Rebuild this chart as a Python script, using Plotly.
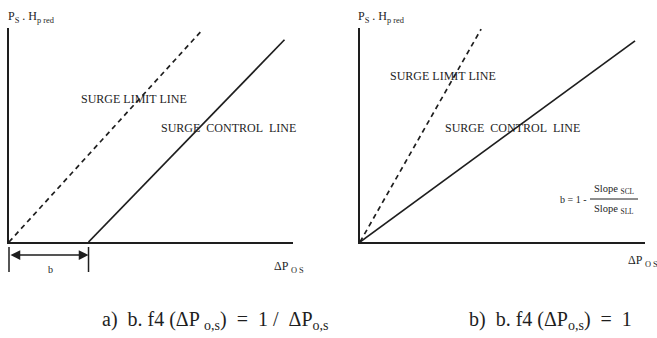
import plotly.graph_objects as go

# ---- data -------------------------------------------------------------
# panel a: parallel lines, surge control line offset by b
b_offset = 2.8
a_sll_x = [0.0, 6.8]
a_sll_y = [0.0, 9.9]
a_scl_x = [b_offset, 9.7]
a_scl_y = [0.0, 9.45]

# panel b: both lines through the origin
b_sll_x = [0.0, 4.25]
b_sll_y = [0.0, 9.95]
b_scl_x = [0.0, 9.65]
b_scl_y = [0.0, 9.4]

line_labels = ["SURGE LIMIT LINE", "SURGE&nbsp;&nbsp;CONTROL&nbsp;&nbsp;LINE"]
y_label = "P<sub>S</sub> . H<sub>p red</sub>"
x_label = "ΔP <sub>O S</sub>"
captions = ["a)&nbsp;&nbsp;b. f4 (ΔP <sub>o,s</sub>)&nbsp;&nbsp;=&nbsp;&nbsp;1 /&nbsp;&nbsp;ΔP<sub>o,s</sub>",
            "b)&nbsp;&nbsp;b. f4 (ΔP<sub>o,s</sub>)&nbsp;&nbsp;=&nbsp;&nbsp;1"]

# ---- layout helpers ---------------------------------------------------
W, H = 657, 338
FONT = "Liberation Serif"
INK = "#1e1e1e"


def px(x):
    return x / W


def py(y):
    return 1 - y / H


X_RANGE = [0, 10]
Y_RANGE = [0, 10]
xdom1 = [px(9), px(293)]
xdom2 = [px(360), px(645)]
ydom = [py(242), py(28)]


def data_to_paper_x(v, dom):
    return dom[0] + (v - X_RANGE[0]) / (X_RANGE[1] - X_RANGE[0]) * (dom[1] - dom[0])


fig = go.Figure()

fig.add_trace(go.Scatter(x=a_sll_x, y=a_sll_y, mode="lines", xaxis="x", yaxis="y",
                         line=dict(color=INK, width=1.7, dash="5px,4px")))
fig.add_trace(go.Scatter(x=a_scl_x, y=a_scl_y, mode="lines", xaxis="x", yaxis="y",
                         line=dict(color=INK, width=1.7)))
fig.add_trace(go.Scatter(x=b_sll_x, y=b_sll_y, mode="lines", xaxis="x2", yaxis="y2",
                         line=dict(color=INK, width=1.7, dash="5px,4px")))
fig.add_trace(go.Scatter(x=b_scl_x, y=b_scl_y, mode="lines", xaxis="x2", yaxis="y2",
                         line=dict(color=INK, width=1.7)))

axis_style = dict(showline=True, linecolor=INK, linewidth=2, showticklabels=False,
                  ticks="", showgrid=False, zeroline=False, fixedrange=True)

fig.update_layout(
    width=W, height=H, margin=dict(l=0, r=0, t=0, b=0),
    paper_bgcolor="white", plot_bgcolor="white", showlegend=False,
    font=dict(family=FONT, color=INK),
    xaxis=dict(domain=xdom1, range=X_RANGE, anchor="y", **axis_style),
    yaxis=dict(domain=ydom, range=Y_RANGE, anchor="x", **axis_style),
    xaxis2=dict(domain=xdom2, range=X_RANGE, anchor="y2", **axis_style),
    yaxis2=dict(domain=ydom, range=Y_RANGE, anchor="x2", **axis_style),
)

ann = []


def text(t, x, y, size, xanchor="center"):
    ann.append(dict(text=t, x=px(x), y=py(y), xref="paper", yref="paper",
                    showarrow=False, xanchor=xanchor, yanchor="middle",
                    font=dict(family=FONT, size=size, color=INK)))


# axis titles
text(y_label, 6, 17, 12, "left")
text(y_label, 356, 17, 12, "left")
text(x_label, 272, 267, 12, "left")
text(x_label, 626, 261, 12, "left")

# line labels
text(line_labels[0], 134, 99, 12)
text(line_labels[1], 228, 128, 12)
text(line_labels[0], 443, 76, 12)
text(line_labels[1], 512, 128, 12)

# captions
text(captions[0], 100, 320, 20, "left")
text(captions[1], 467, 320, 20, "left")

# slope ratio formula
text("b = 1 -", 588, 199, 10, "right")
text("Slope <sub>SCL</sub>", 614, 189, 10.5)
text("Slope <sub>SLL</sub>", 614, 209, 10.5)

# dimension "b" below panel a
text("b", 50, 269, 10)
ann.append(dict(x=b_offset, y=py(255), xref="x", yref="paper",
                ax=0, ay=0, axref="x", ayref="pixel", text="",
                showarrow=True, arrowside="end+start", arrowhead=2,
                arrowsize=1.3, arrowwidth=1.5, arrowcolor=INK))

fig.update_layout(annotations=ann)

shapes = []
for v in [0.0, b_offset]:
    xp = data_to_paper_x(v, xdom1)
    shapes.append(dict(type="line", xref="paper", yref="paper",
                       x0=xp, x1=xp, y0=py(247), y1=py(272),
                       line=dict(color=INK, width=1.5)))
shapes.append(dict(type="line", xref="paper", yref="paper",
                   x0=px(590), x1=px(638), y0=py(199), y1=py(199),
                   line=dict(color=INK, width=1)))
fig.update_layout(shapes=shapes)

fig.write_html("out.html")
